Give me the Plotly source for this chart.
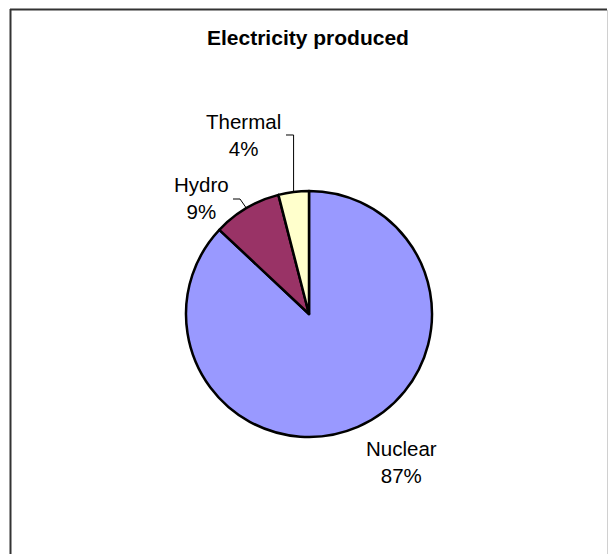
import math
import plotly.graph_objects as go

# ---- data ----
labels = ["Nuclear", "Hydro", "Thermal"]
values = [87, 9, 4]
colors = ["#9999FF", "#993366", "#FFFFCC"]
title_text = "Electricity produced"

# ---- layout helpers (pixel -> paper) ----
W, H = 608, 554
CX, CY, R = 309, 314, 123


def px(x):
    return x / W


def py(y):
    return 1 - y / H


total = sum(values)
pcts = [round(v / total * 100) for v in values]

fig = go.Figure(
    go.Pie(
        labels=labels,
        values=values,
        sort=False,
        direction="clockwise",
        rotation=0,
        marker=dict(colors=colors, line=dict(color="black", width=2.5)),
        textinfo="none",
        hoverinfo="label+percent",
        showlegend=False,
        domain=dict(x=[px(CX - R), px(CX + R)], y=[py(CY + R), py(CY - R)]),
    )
)

# label positions (pixel centres)
label_pos = {"Nuclear": (401, 462), "Hydro": (201, 198), "Thermal": (243, 135)}

annotations = [
    dict(
        x=px(308), y=py(38), xref="paper", yref="paper", text="<b>%s</b>" % title_text,
        showarrow=False, xanchor="center", yanchor="middle",
        font=dict(family="Arial, Liberation Sans, sans-serif", size=21, color="black"),
    )
]
for lab, p in zip(labels, pcts):
    x, y = label_pos[lab]
    annotations.append(
        dict(
            x=px(x), y=py(y), xref="paper", yref="paper", text="%s<br>%d%%" % (lab, p),
            showarrow=False, xanchor="center", yanchor="middle", align="center",
            font=dict(family="Arial, Liberation Sans, sans-serif", size=20.5, color="black"),
        )
    )

# slice mid-angle edge points (from data)
edge = {}
cum = 0
for lab, v in zip(labels, values):
    mid = (cum + v / 2) / total
    th = 2 * math.pi * mid
    edge[lab] = (CX + R * math.sin(th), CY - R * math.cos(th))
    cum += v

shapes = []
ex, ey = edge["Thermal"]
shapes.append(dict(type="path", xref="paper", yref="paper",
                   path="M %f %f L %f %f L %f %f" % (px(ex), py(ey), px(ex), py(135), px(286), py(135)),
                   line=dict(color="black", width=1)))
ex, ey = edge["Hydro"]
shapes.append(dict(type="path", xref="paper", yref="paper",
                   path="M %f %f L %f %f L %f %f" % (px(ex), py(ey), px(240), py(199), px(233), py(199)),
                   line=dict(color="black", width=1)))

# chart area border
shapes.append(dict(type="line", xref="paper", yref="paper", x0=px(10), y0=py(9.5), x1=px(607), y1=py(9.5),
                   line=dict(color="#333333", width=2)))
shapes.append(dict(type="line", xref="paper", yref="paper", x0=px(10.5), y0=py(9), x1=px(10.5), y1=py(560),
                   line=dict(color="#333333", width=2)))
shapes.append(dict(type="line", xref="paper", yref="paper", x0=px(607.5), y0=py(10), x1=px(607.5), y1=py(560),
                   line=dict(color="#d0d0d0", width=1)))

fig.update_layout(
    width=W, height=H,
    margin=dict(l=0, r=0, t=0, b=0),
    paper_bgcolor="white", plot_bgcolor="white",
    annotations=annotations,
    shapes=shapes,
    showlegend=False,
)

fig.write_html("out.html")
